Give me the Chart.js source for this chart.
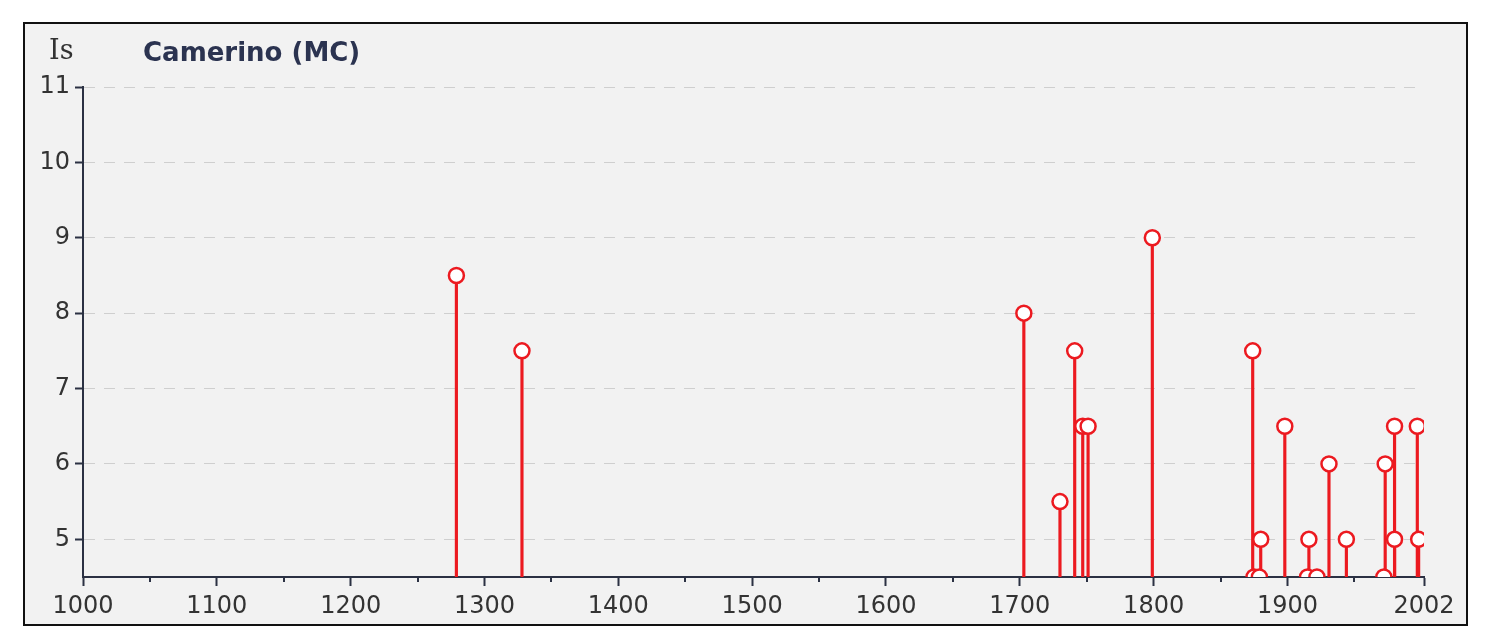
<!DOCTYPE html>
<html>
<head>
<meta charset="utf-8">
<script src="https://cdn.jsdelivr.net/npm/chart.js@4/dist/chart.umd.min.js"></script>
<style>
  html, body { margin: 0; padding: 0; background: #ffffff; }
  #wrap { width: 1485px; height: 638px; }
</style>
</head>
<body>
<div id="wrap"><canvas id="myChart"></canvas></div>
<script>
// Camerino (MC) - intensita' dei risentimenti sismici
const years = [1279, 1328, 1703, 1730, 1741, 1747, 1751, 1799, 1874, 1875, 1879, 1880,
               1898, 1915, 1916, 1922, 1931, 1944, 1972, 1973, 1980, 1980, 1997, 1998];
const intensity = [8.5, 7.5, 8, 5.5, 7.5, 6.5, 6.5, 9, 7.5, 4.5, 4.5, 5,
                   6.5, 4.5, 5, 4.5, 6, 5, 4.5, 6, 6.5, 5, 6.5, 5];
const xTicks = [1000, 1100, 1200, 1300, 1400, 1500, 1600, 1700, 1800, 1900, 2002];
const xMinorTicks = [1050, 1150, 1250, 1350, 1450, 1550, 1650, 1750, 1850, 1950];
const yTicks = [5, 6, 7, 8, 9, 10, 11];
const yMin = 4.5;
const title = 'Camerino (MC)';
const yLabel = 'Is';

const red = 'rgb(236,26,32)';
const axisColor = '#2b3143';

let points = years.map((y, i) => ({ x: y, y: intensity[i] }));
let stems = years.map((y, i) => ({ x: y, y: [yMin, intensity[i]] }));

// frame, title, "Is" and the small ticks at the half centuries
const decor = {
  id: 'decor',
  beforeDraw(chart) {
    const ctx = chart.ctx;
    ctx.save();
    ctx.fillStyle = '#f2f2f2';
    ctx.fillRect(24, 23, 1443, 602);
    ctx.strokeStyle = '#111';
    ctx.lineWidth = 2;
    ctx.strokeRect(24, 23, 1443, 602);
    ctx.restore();
  },
  afterDraw(chart) {
    const ctx = chart.ctx;
    const xs = chart.scales.x;
    ctx.save();
    ctx.strokeStyle = axisColor;
    ctx.lineWidth = 2;
    xMinorTicks.forEach(v => {
      const px = Math.round(xs.getPixelForValue(v));
      ctx.beginPath();
      ctx.moveTo(px, xs.top);
      ctx.lineTo(px, xs.top + 5);
      ctx.stroke();
    });
    ctx.textBaseline = 'alphabetic';
    ctx.textAlign = 'left';
    ctx.fillStyle = '#2b3350';
    ctx.font = 'bold 26px "DejaVu Sans", Verdana, sans-serif';
    ctx.fillText(title, 143, 61);
    ctx.fillStyle = '#333';
    ctx.font = '27px "DejaVu Serif", "Liberation Serif", serif';
    ctx.fillText(yLabel, 49, 59);
    ctx.restore();
  }
};

myChart = new Chart(document.getElementById('myChart'), {
  type: 'scatter',
  data: {
    datasets: [{
      type: 'scatter',
      data: points,
      pointRadius: 7.5,
      pointHoverRadius: 7.5,
      pointBorderWidth: 2.5,
      pointBackgroundColor: '#ffffff',
      pointBorderColor: red,
      order: 0
    }, {
      type: 'bar',
      data: stems,
      backgroundColor: red,
      barThickness: 2.5,
      grouped: false,
      order: 1
    }]
  },
  plugins: [decor],
  options: {
    responsive: true,
    maintainAspectRatio: false,
    animation: false,
    layout: { padding: { left: 0, top: 87, right: 61, bottom: 11 } },
    plugins: { legend: { display: false }, tooltip: { enabled: false }, title: { display: false } },
    scales: {
      x: {
        type: 'linear',
        min: 1000,
        max: 2002,
        offset: false,
        afterBuildTicks: s => { s.ticks = xTicks.map(v => ({ value: v })); },
        afterFit: s => { s.height = 50; },
        grid: { offset: false, drawOnChartArea: false, drawTicks: true, tickLength: 9, tickColor: axisColor, tickWidth: 2 },
        border: { display: true, color: axisColor, width: 2 },
        ticks: {
          color: '#333',
          padding: 6,
          maxRotation: 0,
          autoSkip: false,
          callback: v => String(v),
          font: { family: '"DejaVu Sans", Verdana, sans-serif', size: 24 }
        }
      },
      y: {
        type: 'linear',
        min: yMin,
        max: 11,
        afterBuildTicks: s => { s.ticks = yTicks.map(v => ({ value: v })); },
        afterFit: s => { s.width = 83; },
        grid: { drawOnChartArea: true, color: '#cfcfcf', lineWidth: 1, drawTicks: true, tickLength: 8, tickColor: axisColor, tickWidth: 2 },
        border: { display: true, color: axisColor, width: 2, dash: [11, 9] },
        ticks: {
          color: '#333',
          padding: 5,
          callback: v => String(v),
          font: { family: '"DejaVu Sans", Verdana, sans-serif', size: 24 }
        }
      }
    }
  }
});
</script>
</body>
</html>
